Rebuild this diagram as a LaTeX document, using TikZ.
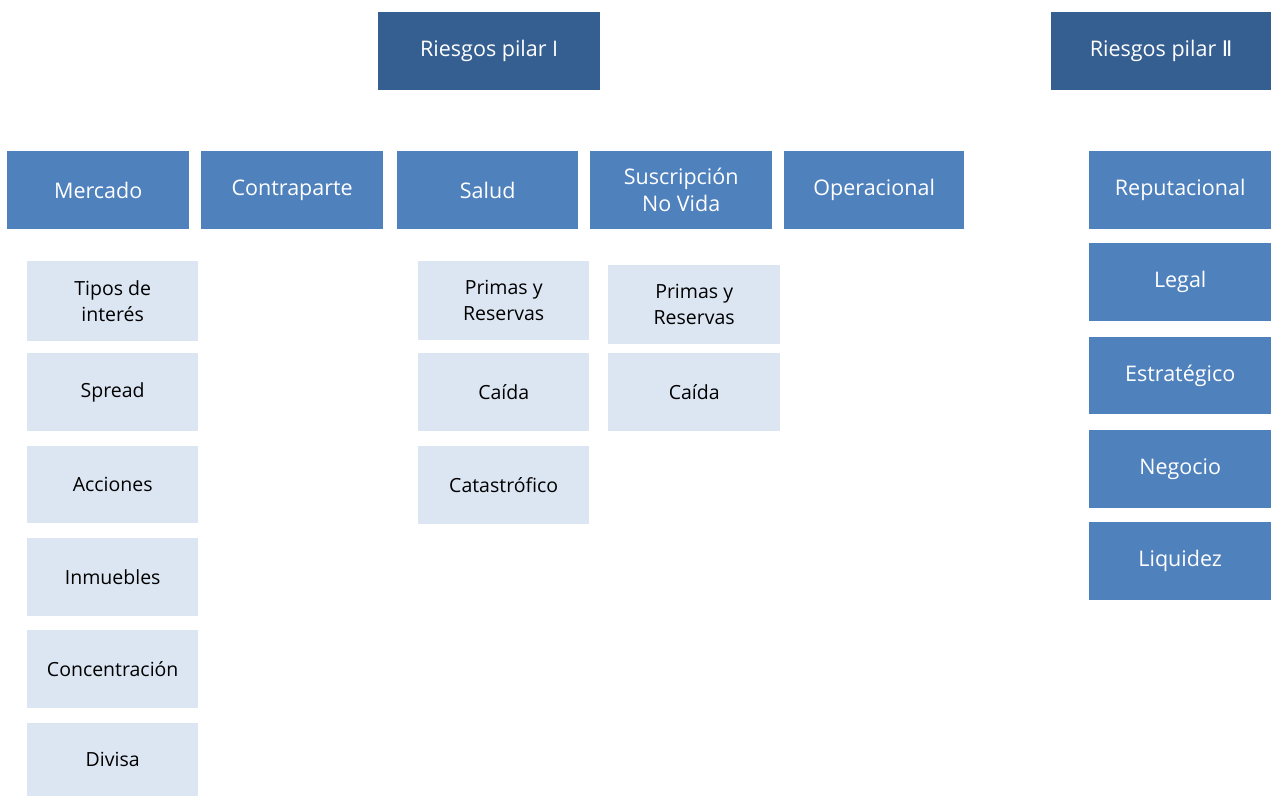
\documentclass[tikz,border=0pt]{standalone}
\usepackage{fontspec}
\setmainfont{Open Sans}
\newfontfamily\numfont{DejaVu Sans}
\usepackage{tikz}
\usetikzlibrary{calc}
\definecolor{myDark}{RGB}{54,95,145}
\definecolor{myBlue}{RGB}{79,129,189}
\definecolor{myLight}{RGB}{220,230,242}
\tikzset{
  pilar/.style={fill=myDark, text=white, anchor=north west, inner sep=0pt,
    minimum width=222pt, minimum height=78pt, font=\fontsize{21.5}{27}\selectfont},
  riesgo/.style={fill=myBlue, text=white, anchor=north west, inner sep=0pt,
    minimum width=182pt, minimum height=78pt, align=center, font=\fontsize{21.5}{27}\selectfont},
  subriesgo/.style={fill=myLight, text=black, anchor=north west, inner sep=0pt,
    minimum width=171pt, minimum height=78pt, align=center, font=\fontsize{19.5}{26}\selectfont},
}
\begin{document}
\begin{tikzpicture}[x=1pt,y=-1pt]
\coordinate (C) at (0,0);
% just to have nice boundaries to the picture
\useasboundingbox (0,0) rectangle (1271,796);

%%%%%%%%%%%%%%%%%%%%%%%%%%%%%%%%%%%%%%%%%%%%%%%%%%%%%%%%%%%%%% Pilares
\node[pilar] (pilarI) at ($(C)+(378,12)$) {Riesgos pilar I};
\node[pilar, minimum width=220pt] (pilarII) at ($(C)+(1051,12)$) {Riesgos pilar {\numfont Ⅱ}};

%%%%%%%%%%%%%%%%%%%%%%%%%%%%%%%%%%%%%%%%%%%%%%%%%%%%%%%%%%%%%% Pilar I
\node[riesgo] (mercado) at ($(C)+(7,151)$) {Mercado};
\node[riesgo] (contraparte) at ($(C)+(201,151)$) {Contraparte};
\node[riesgo, minimum width=181pt] (salud) at ($(C)+(397,151)$) {Salud};
\node[riesgo] (noVida) at ($(C)+(590,151)$) {Suscripción\\No Vida};
\node[riesgo, minimum width=180pt] (operacional) at ($(C)+(784,151)$) {Operacional};

% mercado
\node[subriesgo, minimum height=80pt] (interes) at ($(C)+(27,261)$) {Tipos de\\interés};
\node[subriesgo] (spread) at ($(C)+(27,353)$) {Spread};
\node[subriesgo, minimum height=77pt] (acciones) at ($(C)+(27,446)$) {Acciones};
\node[subriesgo] (inmuebles) at ($(C)+(27,538)$) {Inmuebles};
\node[subriesgo] (concentracion) at ($(C)+(27,630)$) {Concentración};
\node[subriesgo, minimum height=73pt] (divisa) at ($(C)+(27,723)$) {Divisa};

% salud
\node[subriesgo, minimum height=79pt] (saludPrimas) at ($(C)+(418,261)$) {Primas y\\Reservas};
\node[subriesgo] (saludCaida) at ($(C)+(418,353)$) {Caída};
\node[subriesgo] (saludCat) at ($(C)+(418,446)$) {Catastrófico};

% no vida
\node[subriesgo, minimum width=172pt, minimum height=79pt] (noVidaPrimas) at ($(C)+(608,265)$) {Primas y\\Reservas};
\node[subriesgo, minimum width=172pt] (noVidaCaida) at ($(C)+(608,353)$) {Caída};

%%%%%%%%%%%%%%%%%%%%%%%%%%%%%%%%%%%%%%%%%%%%%%%%%%%%%%%%%%%%%% Pilar II
\node[riesgo] (reputacional) at ($(C)+(1089,151)$) {Reputacional};
\node[riesgo] (legal) at ($(C)+(1089,243)$) {Legal};
\node[riesgo, minimum height=77pt] (estrategico) at ($(C)+(1089,337)$) {Estratégico};
\node[riesgo] (negocio) at ($(C)+(1089,430)$) {Negocio};
\node[riesgo] (liquidez) at ($(C)+(1089,522)$) {Liquidez};

\end{tikzpicture}
\end{document}
